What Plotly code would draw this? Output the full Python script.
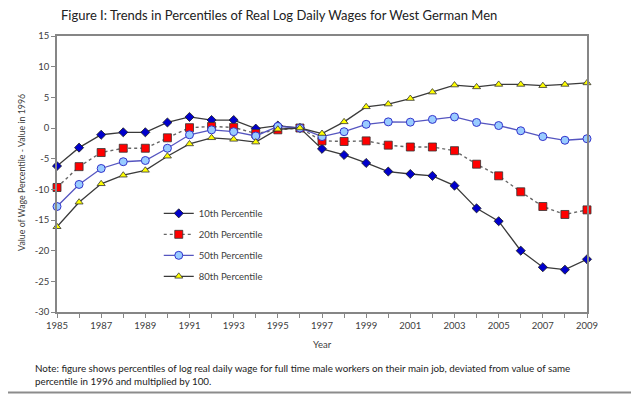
import plotly.graph_objects as go

years = list(range(1985, 2010))
p10 = [-6.2, -3.2, -1.1, -0.7, -0.7, 0.9, 1.8, 1.3, 1.3, -0.1, 0.4, 0.0,
       -3.4, -4.4, -5.7, -7.1, -7.5, -7.8, -9.4, -13.1, -15.2, -20.0, -22.7, -23.1, -21.4]
p20 = [-9.7, -6.3, -4.0, -3.3, -3.3, -1.6, 0.05, 0.25, 0.1, -0.9, -0.3, 0.0,
       -2.1, -2.2, -2.1, -2.8, -3.1, -3.1, -3.7, -5.9, -7.8, -10.4, -12.8, -14.1, -13.35]
p50 = [-12.8, -9.2, -6.6, -5.5, -5.3, -3.3, -1.1, -0.3, -0.6, -1.3, 0.25, 0.0,
       -1.4, -0.6, 0.6, 1.0, 0.95, 1.4, 1.8, 0.9, 0.4, -0.45, -1.4, -2.0, -1.75]
p80 = [-16.1, -12.1, -9.1, -7.7, -6.9, -4.6, -2.6, -1.6, -1.85, -2.3, -0.2, 0.0,
       -0.9, 1.0, 3.45, 3.9, 4.8, 5.85, 7.0, 6.7, 7.1, 7.1, 6.9, 7.1, 7.35]

x_tickvals = list(range(1985, 2010, 2))
x_ticktext = [str(v) for v in x_tickvals]
y_tickvals = list(range(-30, 16, 5))
y_ticktext = [str(v) for v in y_tickvals]

FONT = "Lato"
AX = "#868686"
TXT = "#404040"

fig = go.Figure()
fig.add_trace(go.Scatter(x=years, y=p10, name="10th Percentile", mode="lines+markers",
                         legendgroup="a",
                         line=dict(color="#3a3a3a", width=1.3),
                         marker=dict(symbol="diamond", size=7, color="#0000CC",
                                     line=dict(color="#1a1a1a", width=0.8)),
                         cliponaxis=False))
fig.add_trace(go.Scatter(x=years, y=p20, name="20th Percentile", mode="lines+markers",
                         legendgroup="b",
                         line=dict(color="#666666", width=1.4, dash="dot"),
                         marker=dict(symbol="square", size=8, color="#FF0000",
                                     line=dict(color="#333333", width=0.8)),
                         cliponaxis=False))
fig.add_trace(go.Scatter(x=years, y=p50, name="50th Percentile", mode="lines+markers",
                         legendgroup="c",
                         line=dict(color="#5555C0", width=1.3),
                         marker=dict(symbol="circle", size=8, color="#99CCFF",
                                     line=dict(color="#3333CC", width=1)),
                         cliponaxis=False))
fig.add_trace(go.Scatter(x=years, y=p80, name="80th Percentile", mode="lines+markers",
                         legendgroup="d",
                         line=dict(color="#3a3a3a", width=1.3),
                         marker=dict(symbol="triangle-up", size=7, color="#FFFF00",
                                     line=dict(color="#333333", width=0.8)),
                         cliponaxis=False))

# page body has an 8px margin: the figure is offset by (8, 8)
fig.update_layout(
    width=631, height=389,
    margin=dict(l=49, r=52, t=28, b=85),
    paper_bgcolor="white", plot_bgcolor="white",
    font=dict(family=FONT, size=10, color=TXT),
    showlegend=True,
    legend=dict(x=0.192, y=0.41, xanchor="left", yanchor="top",
                bgcolor="rgba(0,0,0,0)", font=dict(family=FONT, size=9.5, color=TXT),
                tracegroupgap=2),
    xaxis=dict(range=[1985, 2009], tickvals=x_tickvals, ticktext=x_ticktext,
               showgrid=False, zeroline=False, showline=True, linecolor=AX, linewidth=1.5,
               mirror=True, ticks="outside", ticklen=4, tickcolor=AX, tickwidth=1,
               minor=dict(ticks="outside", dtick=1, tick0=1985, ticklen=4, tickcolor=AX, showgrid=False),
               tickfont=dict(family=FONT, size=9.5, color=TXT)),
    yaxis=dict(range=[-30, 15], tickvals=y_tickvals, ticktext=y_ticktext,
               showgrid=False, zeroline=False, showline=True, linecolor=AX, linewidth=1.5,
               mirror=True, ticks="outside", ticklen=4, tickcolor=AX, tickwidth=1,
               tickfont=dict(family=FONT, size=9.5, color=TXT)),
)

fig.add_annotation(text="Figure I: Trends in Percentiles of Real Log Daily Wages for West German Men",
                   xref="paper", yref="paper", x=0.0038, y=1.075, xanchor="left", yanchor="middle",
                   showarrow=False, font=dict(family=FONT, size=13, color="#222222"))
fig.add_annotation(text="Value of Wage Percentile - Value in 1996",
                   xref="paper", yref="paper", x=-0.066, y=0.504, xanchor="center", yanchor="middle",
                   textangle=-90, showarrow=False, font=dict(family=FONT, size=8.8, color=TXT))
fig.add_annotation(text="Year", xref="paper", yref="paper", x=0.5, y=-0.118,
                   xanchor="center", yanchor="middle", showarrow=False,
                   font=dict(family=FONT, size=9.5, color=TXT))
fig.add_annotation(text="Note: figure shows percentiles of log real daily wage for full time male workers on their main job, deviated from value of same<br>percentile in 1996 and multiplied by 100.",
                   xref="paper", yref="paper", x=-0.045, y=-0.1725, xanchor="left", yanchor="top",
                   align="left", showarrow=False, font=dict(family=FONT, size=9.8, color="#222222"))

# screenshot frame (right and bottom border)
fig.add_shape(type="line", xref="paper", yref="paper", x0=1.0925, x1=1.0925, y0=-0.2918, y1=1.15,
              line=dict(color="#8c8c8c", width=2))
fig.add_shape(type="line", xref="paper", yref="paper", x0=-0.11, x1=1.0925, y0=-0.2918, y1=-0.2918,
              line=dict(color="#8c8c8c", width=2))

fig.write_html("out.html")
